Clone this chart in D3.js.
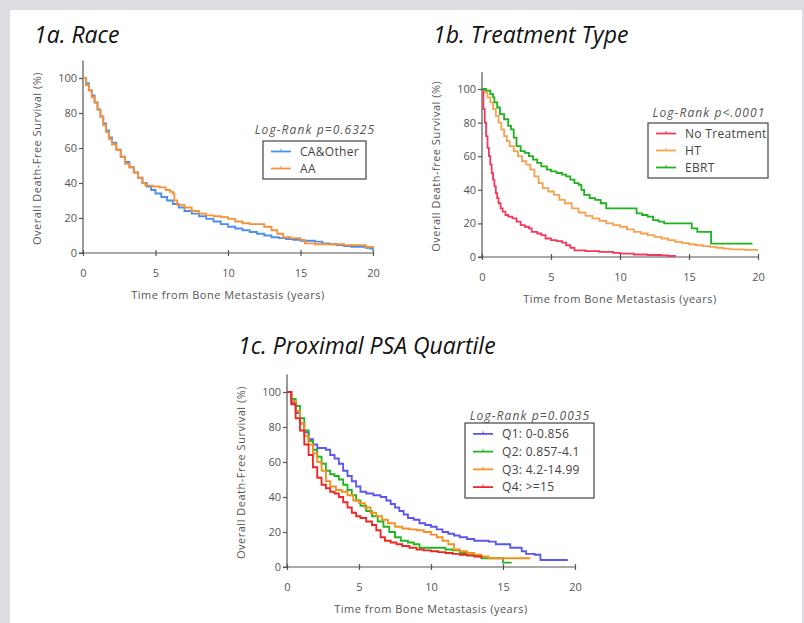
<!DOCTYPE html>
<html>
<head>
<meta charset="utf-8">
<script src="https://cdn.jsdelivr.net/npm/d3@7"></script>
<style>
  body { margin: 0; background: #dcdde2; }
  svg { display: block; }
  .tick text { font-family: "Open Sans", sans-serif; font-size: 11px; fill: #555; }
  .axis path, .axis line { stroke: #555; stroke-width: 1.2; }
  .atitle { font-family: "Open Sans", sans-serif; font-size: 11px; letter-spacing: 0.5px; fill: #555; }
  .ptitle { font-family: "Open Sans", sans-serif; font-style: italic; font-size: 23px; fill: #111; }
  .legtitle { font-family: "Open Sans", sans-serif; font-style: italic; font-size: 12px; letter-spacing: 1.1px; fill: #555; }
  .legtext { font-family: "Open Sans", sans-serif; font-size: 12px; letter-spacing: 0.3px; fill: #444; }
</style>
</head>
<body>
<div id="chart"></div>
<script>
// Kaplan-Meier survival steps: [years, survival %]
const caOther = [[0,100],[0.2,97],[0.4,93],[0.6,90],[0.8,86],[1,82],[1.2,78],[1.4,74],[1.6,70],[1.8,66],[2,63],[2.3,59],[2.6,55],[2.9,52],[3.2,49],[3.5,46],[3.8,43],[4.1,40],[4.4,38],[4.7,36],[5,34],[5.4,32],[5.8,30],[6.2,28],[6.6,26],[7,24],[7.5,22.5],[8,21],[8.5,19.5],[9,18],[9.5,16.5],[10,15],[10.5,14],[11,13],[11.5,12],[12,11],[12.5,10],[13,9],[13.5,8.5],[14,8],[14.5,7.5],[15,7],[16,6.5],[16.5,5.5],[17,5],[17.5,4.5],[18,4],[18.5,3.5],[19.5,3],[19.8,2.5],[20,1]];
const aa = [[0,100],[0.2,96],[0.4,93],[0.6,89],[0.8,86],[1,82],[1.2,78],[1.4,73],[1.6,69],[1.8,65],[2,62],[2.3,59],[2.6,55],[2.9,51],[3.2,49],[3.5,46],[3.8,43],[4.1,40],[4.3,38.5],[4.8,38],[5.3,37.5],[5.7,36],[6,35],[6.2,34],[6.3,30],[6.5,27.5],[7,26],[7.5,24],[8,22.5],[8.5,21.5],[9,21],[9.5,20.5],[10,19.5],[10.5,18],[11,17],[11.5,16.5],[12.5,15],[13,13],[13.4,11],[13.8,9],[14.3,8.5],[15,7.5],[15.3,5.5],[16,5],[18,4.5],[19.5,3.5],[20,2.5]];

const noTreatment = [[0,100],[0.1,88],[0.2,80],[0.3,72],[0.4,65],[0.5,60],[0.6,55],[0.7,50],[0.8,46],[0.9,42],[1,38],[1.1,35],[1.2,32],[1.35,29],[1.5,27],[1.7,25],[1.9,24],[2.2,23],[2.5,21],[2.8,19],[3.1,18],[3.4,17],[3.6,15],[4,14],[4.3,13],[4.6,11],[5,10],[5.4,9.5],[5.8,8.5],[6.1,7],[6.4,5.5],[6.7,4],[7.5,3.5],[8.5,3],[9.5,2.5],[10,2],[11,1.5],[12,1.2],[13,1],[13.5,0.6],[14,0.3]];
const ht = [[0,100],[0.2,98],[0.4,95],[0.6,92],[0.8,88],[1,84],[1.2,80],[1.4,76],[1.6,72],[1.8,69],[2,66],[2.3,63],[2.6,60],[2.9,57],[3.2,55],[3.5,52],[3.8,48],[4.1,44],[4.4,41],[4.8,39],[5.2,37],[5.6,34],[6,32],[6.5,29],[7,26.5],[7.5,24.5],[8,23],[8.5,21.5],[9,20],[9.5,19],[10,18],[10.5,16.5],[11,15],[11.5,14],[12,13],[12.5,12],[13,11],[13.5,10],[14,9],[14.5,8.3],[15,7.6],[15.5,7],[16,6.5],[16.5,6],[17,5.5],[17.5,5],[18,4.5],[19,4.3],[20,4.3]];
const ebrt = [[0,100],[0.3,99],[0.6,97],[0.8,95],[0.9,92],[1.1,89],[1.3,85],[1.6,82],[1.9,78],[2.1,76],[2.3,71],[2.5,66],[2.8,63],[3.1,62],[3.4,60],[3.7,58],[4,56],[4.3,54],[4.7,52],[5,51],[5.4,50],[5.8,49],[6.1,48],[6.4,46],[6.7,44],[7,43],[7.2,40],[7.4,37],[7.8,35],[8.2,34],[8.6,32],[9,29],[11,29],[11.2,26],[11.6,25],[12,24],[12.4,22],[12.8,21],[13.2,20],[15,20],[15.2,17],[15.6,15],[16.5,15],[16.6,8],[19.6,8]];

const q1 = [[0,100],[0.3,94],[0.6,88],[0.9,82],[1.2,77],[1.5,73],[1.8,70],[2.1,68],[2.7,67],[3,64],[3.3,62],[3.6,59],[3.9,55],[4.2,52],[4.5,49],[4.8,46],[5.1,43],[5.5,42],[6,41],[6.5,40],[6.9,38],[7.2,36],[7.5,34],[7.8,32],[8.1,30],[8.4,28],[8.8,27],[9.2,25],[9.6,24],[10,23],[10.4,21.5],[10.8,20],[11.2,19],[11.6,18],[12,17],[12.5,16],[13,15],[14,14.5],[14.5,13],[15.5,11],[16.3,9],[16.6,7.5],[17.2,7],[17.6,4],[19.5,4]];
const q2 = [[0,100],[0.3,96],[0.6,92],[0.9,85],[1.2,78],[1.5,72],[1.8,67],[2.1,63],[2.4,59],[2.7,55],[3,53],[3.3,52],[3.6,50],[3.9,47],[4.2,44],[4.5,41],[4.8,38],[5.1,35],[5.5,32],[5.9,29],[6.3,26],[6.7,23],[7.1,20],[7.5,17],[7.9,15],[8.4,14],[8.8,13],[9.2,11],[11,10],[11.5,9.5],[12,8],[12.5,7.5],[13,6.5],[13.5,5],[15,2.5],[15.6,2.5]];
const q3 = [[0,100],[0.3,95],[0.6,89],[0.9,82],[1.2,75],[1.5,70],[1.8,65],[2.1,60],[2.4,55],[2.7,49],[3,46],[3.4,44],[3.8,43],[4.2,41],[4.6,38],[5,36.5],[5.4,34],[5.8,31],[6.2,29],[6.6,27],[7,25],[7.5,23],[8,22],[8.5,21.5],[9,21],[9.5,20],[10,18.5],[10.4,17],[10.8,15],[11.2,13],[11.6,10],[12,9],[12.5,8],[13,7],[13.5,6],[14,5],[16.9,5]];
const q4 = [[0,100],[0.3,93],[0.6,85],[0.9,78],[1.2,70],[1.5,64],[1.8,57],[2.1,51],[2.4,47],[2.7,45],[3,43],[3.3,42],[3.6,40],[3.9,37],[4.2,34],[4.5,31],[4.8,29],[5.1,28],[5.5,26],[5.9,24],[6.2,21],[6.5,17],[6.8,15],[7.2,14],[7.6,13],[8,12],[8.5,11],[9,10],[9.5,9.5],[10,9],[10.5,8.5],[11,8],[11.5,7.5],[12,7],[12.5,6.5],[13,6],[13.5,5]];

const xTicks = [0, 5, 10, 15, 20];
const yTicks = [0, 20, 40, 60, 80, 100];
const xLabel = "Time from Bone Metastasis (years)";

const panels = [
  { title: "1a. Race", tx: 34, ty: 43,
    x0: 83, x1: 373, yb: 253, yt: 78,
    ylabel: "Overall Death-Free Survival (%)",
    logRank: "Log-Rank p=0.6325",
    legend: { x: 263, y: 141, w: 103, h: 38, titleX: 315, titleY: 134 },
    series: [ { name: "CA&Other", data: caOther, color: "#4e8fe6" },
              { name: "AA", data: aa, color: "#f5923a" } ] },
  { title: "1b. Treatment Type", tx: 433, ty: 43,
    x0: 482, x1: 758, yb: 257, yt: 89,
    ylabel: "Overall Death-free Survival (%)",
    logRank: "Log-Rank p<.0001",
    legend: { x: 648, y: 123, w: 120, h: 55, titleX: 709, titleY: 117 },
    series: [ { name: "No Treatment", data: noTreatment, color: "#f2385c" },
              { name: "HT", data: ht, color: "#f7a24e" },
              { name: "EBRT", data: ebrt, color: "#1fb21f" } ] },
  { title: "1c. Proximal PSA Quartile", tx: 238, ty: 354,
    x0: 287, x1: 575, yb: 567, yt: 392,
    ylabel: "Overall Death-Free Survival (%)",
    logRank: "Log-Rank p=0.0035",
    legend: { x: 465, y: 423, w: 129, h: 75, titleX: 530, titleY: 420 },
    series: [ { name: "Q1: 0-0.856", data: q1, color: "#5a55ee" },
              { name: "Q2: 0.857-4.1", data: q2, color: "#22b422" },
              { name: "Q3: 4.2-14.99", data: q3, color: "#f6901e" },
              { name: "Q4: >=15", data: q4, color: "#f02424" } ] }
];

const W = 804, H = 623;
const svg = d3.select("#chart").append("svg")
  .attr("width", W).attr("height", H);

svg.append("rect").attr("width", W).attr("height", H).attr("fill", "#dcdde2");
svg.append("rect").attr("x", 10).attr("y", 10).attr("width", 792).attr("height", H - 10).attr("fill", "#ffffff");

panels.forEach(p => {
  const x = d3.scaleLinear().domain([0, 20]).range([p.x0, p.x1]);
  const y = d3.scaleLinear().domain([0, 100]).range([p.yb, p.yt]);
  const yTop = y(110);

  svg.append("text").attr("class", "ptitle")
    .attr("x", p.tx).attr("y", p.ty).text(p.title);

  // y axis
  const yAxis = svg.append("g").attr("class", "axis")
    .attr("transform", `translate(${p.x0},0)`)
    .call(d3.axisLeft(y).tickValues(yTicks).tickSize(4).tickPadding(2).tickSizeOuter(0));
  yAxis.select(".domain").attr("d", `M0,${p.yb}V${yTop}`);

  // x axis, ticks crossing the line
  const xAxis = svg.append("g").attr("class", "axis")
    .attr("transform", `translate(0,${p.yb})`)
    .call(d3.axisBottom(x).tickValues(xTicks).tickSize(3).tickPadding(13).tickSizeOuter(0));
  xAxis.selectAll(".tick line").attr("y1", -3).attr("y2", 3);
  xAxis.select(".domain").attr("d", `M${p.x0 - 4},0H${p.x1 + 1}`);

  svg.append("text").attr("class", "atitle")
    .attr("x", (p.x0 + p.x1) / 2).attr("y", p.yb + 46)
    .attr("text-anchor", "middle").text(xLabel);

  svg.append("text").attr("class", "atitle")
    .attr("transform", `translate(${p.x0 - 42},${y(54)}) rotate(-90)`)
    .attr("text-anchor", "middle").text(p.ylabel);

  // curves
  const line = d3.line().curve(d3.curveStepAfter)
    .x(d => x(d[0])).y(d => y(d[1]));
  p.series.forEach(s => {
    svg.append("path").datum(s.data)
      .attr("fill", "none").attr("stroke", s.color)
      .attr("stroke-width", 1.8).attr("d", line);
  });

  // legend
  const L = p.legend;
  svg.append("text").attr("class", "legtitle")
    .attr("x", L.titleX).attr("y", L.titleY)
    .attr("text-anchor", "middle").text(p.logRank);
  const lg = svg.append("g").attr("transform", `translate(${L.x},${L.y})`);
  lg.append("rect").attr("width", L.w).attr("height", L.h)
    .attr("fill", "#fff").attr("stroke", "#444").attr("stroke-width", 1.2);
  const rowH = (L.h - 4) / p.series.length;
  p.series.forEach((s, i) => {
    const cy = 2 + rowH * (i + 0.5);
    lg.append("line").attr("x1", 8).attr("x2", 28).attr("y1", cy).attr("y2", cy)
      .attr("stroke", s.color).attr("stroke-width", 1.8);
    lg.append("line").attr("x1", 18).attr("x2", 18).attr("y1", cy - 2.5).attr("y2", cy)
      .attr("stroke", s.color).attr("stroke-width", 1);
    lg.append("text").attr("class", "legtext")
      .attr("x", 37).attr("y", cy).attr("dy", "0.35em").text(s.name);
  });
});
</script>
</body>
</html>
